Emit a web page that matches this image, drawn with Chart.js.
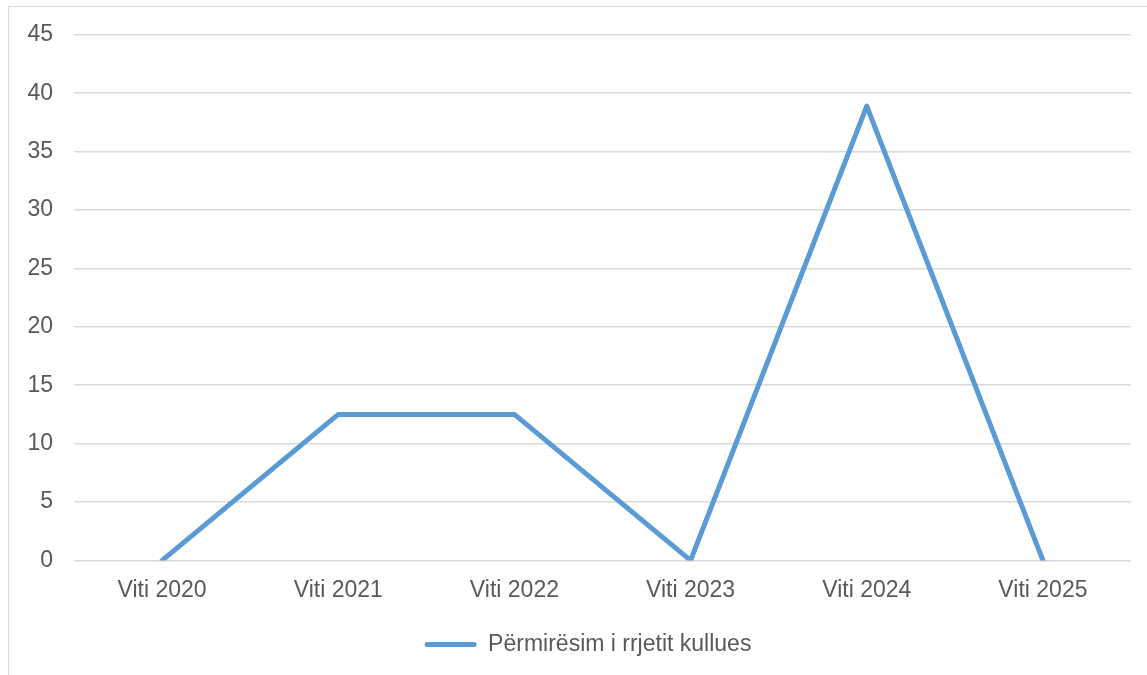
<!DOCTYPE html>
<html>
<head>
<meta charset="utf-8">
<script src="https://cdn.jsdelivr.net/npm/chart.js@4/dist/chart.umd.min.js"></script>
<style>
  html, body { margin: 0; padding: 0; background: #fff; overflow: hidden; }
  #wrap { position: absolute; left: 0; top: 0; width: 1147px; height: 675px; }
  #frame { position: absolute; left: 8px; top: 6px; width: 1160px; height: 700px; border: 1.5px solid #d9d9d9; box-sizing: border-box; }
  canvas { position: absolute; left: 0; top: 0; }
</style>
</head>
<body>
<div id="wrap">
  <div id="frame"></div>
  <canvas id="c" width="1147" height="675"></canvas>
</div>
<script>
const categories = ["Viti 2020", "Viti 2021", "Viti 2022", "Viti 2023", "Viti 2024", "Viti 2025"];
const seriesName = "Përmirësim i rrjetit kullues";
const seriesValues = [0, 12.5, 12.5, 0, 38.9, 0];
const yTicks = [0, 5, 10, 15, 20, 25, 30, 35, 40, 45];

const textColor = "#595959";
const fontFamily = "'Liberation Sans', Arial, sans-serif";
const fontSize = 23;

const legendShift = {
  id: "legendShift",
  afterLayout(chart) {
    if (chart.legend) { chart.legend.left = 45; }
  }
};

new Chart(document.getElementById("c"), {
  type: "line",
  data: {
    labels: categories,
    datasets: [{
      label: seriesName,
      data: seriesValues,
      borderColor: "#5B9BD5",
      backgroundColor: "#5B9BD5",
      borderWidth: 5,
      pointRadius: 0,
      pointHoverRadius: 0,
      tension: 0,
      borderCapStyle: "round",
      borderJoinStyle: "round",
      fill: false
    }]
  },
  plugins: [legendShift],
  options: {
    responsive: false,
    animation: false,
    devicePixelRatio: 1,
    layout: { padding: { left: 0, right: 16, top: 23, bottom: 9 } },
    plugins: {
      tooltip: { enabled: false },
      legend: {
        position: "bottom",
        labels: {
          color: textColor,
          font: { family: fontFamily, size: fontSize },
          boxWidth: 52,
          boxHeight: 5,
          useBorderRadius: true,
          borderRadius: 2.5,
          padding: 13,
          generateLabels: (chart) => chart.data.datasets.map((ds, i) => ({
            text: ds.label,
            fillStyle: ds.borderColor,
            strokeStyle: ds.borderColor,
            lineWidth: 0,
            borderRadius: 2.5,
            fontColor: textColor,
            datasetIndex: i
          }))
        }
      }
    },
    scales: {
      x: {
        offset: true,
        grid: { display: false, drawTicks: false },
        border: { display: false },
        ticks: {
          color: textColor,
          font: { family: fontFamily, size: fontSize },
          padding: 16,
          maxRotation: 0
        }
      },
      y: {
        min: 0,
        max: 45,
        afterBuildTicks: (scale) => { scale.ticks = yTicks.map(v => ({ value: v })); },
        afterFit: (scale) => { scale.width = 74; },
        grid: { color: "#d9d9d9", lineWidth: 1.5, drawTicks: false },
        border: { display: false },
        ticks: {
          color: textColor,
          font: { family: fontFamily, size: fontSize },
          padding: 21
        }
      }
    }
  }
});
</script>
</body>
</html>
